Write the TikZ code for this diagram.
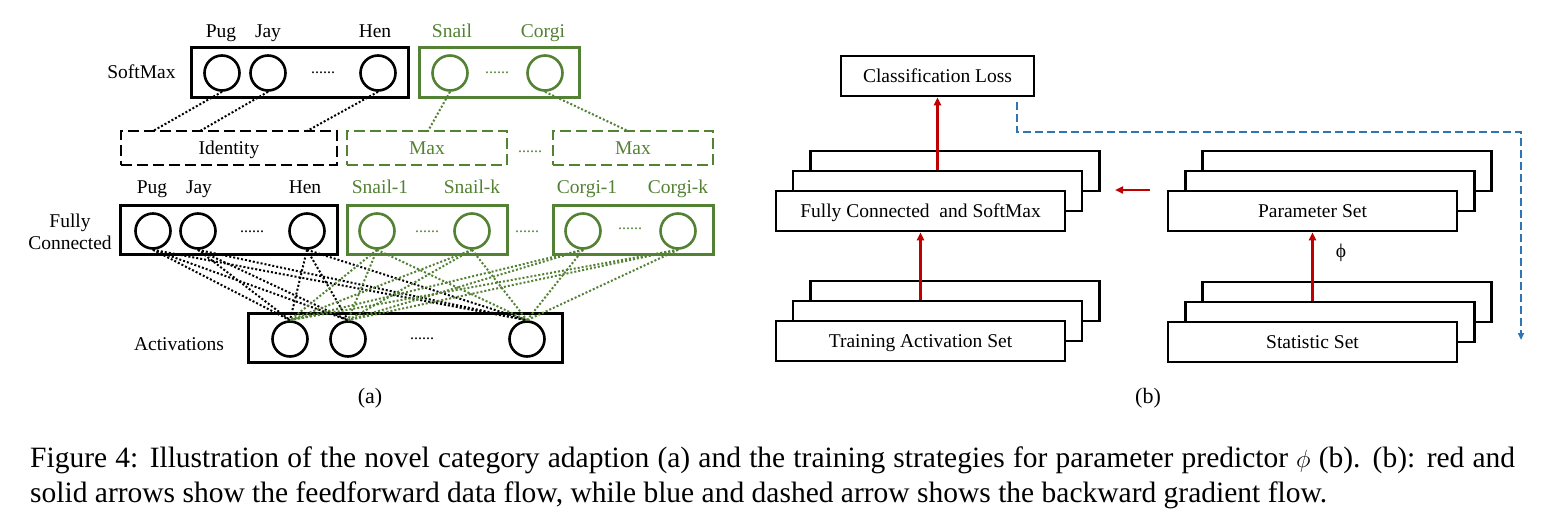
\documentclass[tikz,border=0pt]{standalone}
\usepackage{fontspec}
\setmainfont{Liberation Serif}
\usetikzlibrary{arrows.meta}
\definecolor{grn}{HTML}{548235}
\definecolor{myred}{HTML}{C00000}
\definecolor{myblue}{HTML}{2E75B6}
\newcommand\lblfont{\fontsize{19.5}{23}\selectfont}
\newcommand\dotfont{\fontsize{16}{18}\selectfont}
\newcommand\capfont{\fontsize{29.5}{35}\selectfont}
\tikzset{
  neuron/.style={circle, draw, line width=2.6pt, minimum size=35pt, inner sep=0pt, fill=white},
  gneuron/.style={neuron, draw=grn},
  layerbox/.style={draw, line width=3pt, inner sep=0pt},
  glayer/.style={layerbox, draw=grn},
  dbox/.style={draw, line width=2.8pt, dash pattern=on 11pt off 5pt, inner sep=0pt, minimum height=34pt, text height=13.5pt, text depth=0pt, font=\lblfont},
  gdbox/.style={dbox, draw=grn, text=grn, minimum width=160pt},
  lab/.style={font=\lblfont, inner sep=0pt, anchor=base},
  glab/.style={lab, text=grn},
  dots/.style={font=\dotfont, inner sep=0pt, anchor=base},
  gdots/.style={dots, text=grn},
  conn/.style={line width=2pt, dash pattern=on 2pt off 2pt},
  gconn/.style={conn, draw=grn},
  stackbox/.style={draw, line width=2.6pt, fill=white, minimum width=289pt, minimum height=40pt, inner sep=0pt, text height=13.5pt, text depth=0pt, font=\lblfont},
  redarrow/.style={draw=myred, line width=2.6pt, -{Triangle[length=8pt,width=7pt]}},
  bluearrow/.style={draw=myblue, line width=2.2pt, dash pattern=on 8pt off 4pt, -{Triangle[length=7pt,width=6pt]}},
}
\begin{document}
\begin{tikzpicture}[x=1pt,y=-1pt]
\useasboundingbox[fill=white] (0,0) rectangle (1548,512);

% ---------- (a) ----------
% SoftMax layer
\node[lab] (smlab) at (141.5,78) {SoftMax};
\node[layerbox, minimum width=217pt, minimum height=50pt] (smb) at (299.5,72) {};
\node[glayer, minimum width=160pt, minimum height=50pt] (smg) at (499,72) {};
\node[neuron] (sp) at (222,73) {};
\node[neuron] (sj) at (268,73) {};
\node[dots] (sd1) at (323,73) {......};
\node[neuron] (sh) at (378,73) {};
\node[gneuron] (ss) at (450,73) {};
\node[gdots] (sd2) at (497,73) {......};
\node[gneuron] (sc) at (545,73) {};
\node[lab] (lpug) at (221,37) {Pug};
\node[lab] (ljay) at (268,37) {Jay};
\node[lab] (lhen) at (375,37) {Hen};
\node[glab] (lsnail) at (452,37) {Snail};
\node[glab] (lcorgi) at (543,37) {Corgi};

% Identity / Max
\node[dbox, minimum width=216pt] (idb) at (229,148) {Identity};
\node[gdbox] (mx1) at (427,148) {Max};
\node[gdots] (md) at (530,152) {......};
\node[gdbox] (mx2) at (633,148) {Max};
\coordinate (i1) at (153,131);
\coordinate (i2) at (200,131);
\coordinate (i3) at (307,131);
\coordinate (m1) at (428,131);
\coordinate (m2) at (628,131);
\draw[conn] (sp.south) -- (i1);
\draw[conn] (sj.south) -- (i2);
\draw[conn] (sh.south) -- (i3);
\draw[gconn] (ss.south) -- (m1);
\draw[gconn] (sc.south) -- (m2);

% Fully connected layer
\node[lab] (fclab1) at (70,227) {Fully};
\node[lab] (fclab2) at (70,249) {Connected};
\node[layerbox, minimum width=217pt, minimum height=49pt] (fcb) at (228.5,229.5) {};
\node[glayer, minimum width=160pt, minimum height=49pt] (fcg1) at (427,229.5) {};
\node[glayer, minimum width=160pt, minimum height=49pt] (fcg2) at (633,229.5) {};
\node[neuron] (fp) at (153,231) {};
\node[neuron] (fj) at (198,231) {};
\node[dots] (fd1) at (252,232) {......};
\node[neuron] (fh) at (307,231) {};
\node[gneuron] (fs1) at (377,231) {};
\node[gdots] (fd2) at (427,232) {......};
\node[gneuron] (fsk) at (472,231) {};
\node[gdots] (fd3) at (527,232) {......};
\node[gneuron] (fc1) at (583,231) {};
\node[gdots] (fd4) at (630,229) {......};
\node[gneuron] (fck) at (678,231) {};
\node[lab] (lfpug) at (152,193) {Pug};
\node[lab] (lfjay) at (199,193) {Jay};
\node[lab] (lfhen) at (305,193) {Hen};
\node[glab] (lfs1) at (380,193) {Snail-1};
\node[glab] (lfsk) at (472,193) {Snail-k};
\node[glab] (lfc1) at (587,193) {Corgi-1};
\node[glab] (lfck) at (678,193) {Corgi-k};

% Activations
\node[lab] (actlab) at (179,350) {Activations};
\node[layerbox, minimum width=314pt, minimum height=49pt] (actb) at (405,337.5) {};
\node[neuron] (a1) at (290,339) {};
\node[neuron] (a2) at (348,339) {};
\node[dots] (ad) at (422,339) {......};
\node[neuron] (a3) at (527,339) {};

\foreach \f in {fp,fj,fh}{
  \foreach \a in {a1,a2,a3}{
    \draw[conn] (\f.south) -- (\a.north);
  }
}
\foreach \f in {fs1,fsk,fc1,fck}{
  \foreach \a in {a1,a2,a3}{
    \draw[gconn] (\f.south) -- (\a.north);
  }
}

\node[font=\fontsize{22}{26}\selectfont, inner sep=0pt] (capa) at (370,398) {(a)};

% ---------- (b) ----------
\node[draw, line width=2.6pt, minimum width=193pt, minimum height=40pt, inner sep=0pt, text height=13.5pt, text depth=0pt, font=\lblfont] (cl) at (937.5,76) {Classification Loss};

\node[stackbox] (fcbk) at (955,171) {};
\node[stackbox] (fcm) at (937.5,191) {};
\node[stackbox] (fcf) at (920.5,211) {Fully Connected~ and SoftMax};

\node[stackbox] (trb) at (955,301) {};
\node[stackbox] (trm) at (937.5,321) {};
\node[stackbox] (trf) at (920.5,341) {Training Activation Set};

\node[stackbox] (pmb) at (1347,171) {};
\node[stackbox] (pmm) at (1330,191) {};
\node[stackbox] (pmf) at (1312.5,211) {Parameter Set};

\node[stackbox] (stb) at (1347,302) {};
\node[stackbox] (stm) at (1330,322) {};
\node[stackbox] (stf) at (1312.5,342) {Statistic Set};

\draw[redarrow] (fcm.north) -- (cl.south);
\draw[redarrow] (trm.north -| trf.north) -- (fcf.south);
\draw[redarrow] (stm.north -| stf.north) -- (pmf.south);
\coordinate (rh1) at (1150,190);
\coordinate (rh2) at (1115,190);
\draw[redarrow] (rh1) -- (rh2);
\node[font=\lblfont, inner sep=0pt] (phi) at (1341,253) {ϕ};

\coordinate (bs) at (1017,102);
\coordinate (bc1) at (1017,132);
\coordinate (bc2) at (1521,132);
\coordinate (be) at (1521,340);
\draw[bluearrow] (bs) -- (bc1) -- (bc2) -- (be);

\node[font=\fontsize{22}{26}\selectfont, inner sep=0pt] (capb) at (1148,398) {(b)};

% ---------- caption ----------
\node[font=\capfont, inner sep=0pt, anchor=base west] (cap1) at (30,467) {\makebox[1485pt][s]{Figure 4: Illustration of the novel category adaption (a) and the training strategies for parameter predictor $\phi$ (b). (b): red and}};
\node[font=\capfont, inner sep=0pt, anchor=base west] (cap2) at (30,502) {solid arrows show the feedforward data flow, while blue and dashed arrow shows the backward gradient flow.};
\end{tikzpicture}
\end{document}
